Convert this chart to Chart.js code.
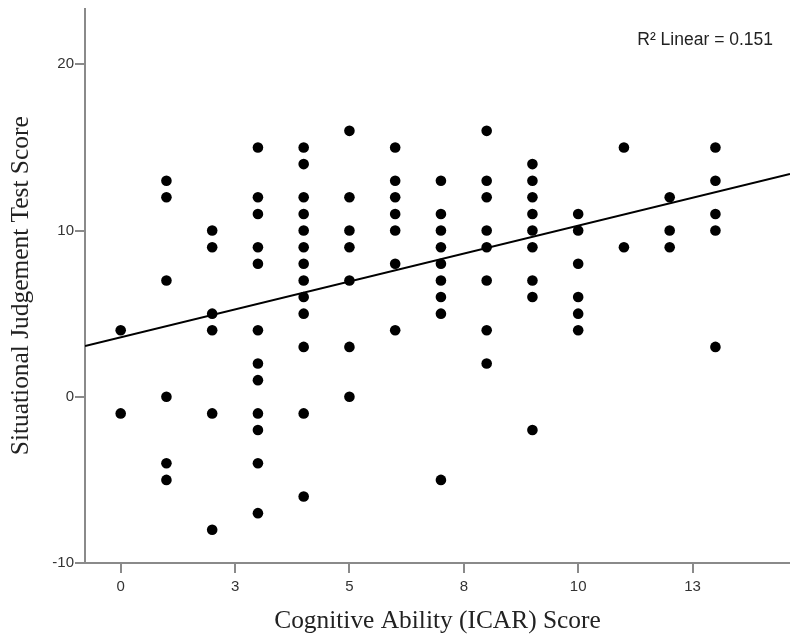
<!DOCTYPE html>
<html>
<head>
<meta charset="utf-8">
<script src="https://cdn.jsdelivr.net/npm/chart.js@4/dist/chart.umd.min.js"></script>
<style>
  html, body { margin: 0; padding: 0; background: #fff; }
  canvas { display: block; }
</style>
</head>
<body>
<canvas id="chartCanvas" width="790" height="640"></canvas>
<script>
// --- data ---
const cogScores = [0, 1, 2, 3, 4, 5, 6, 7, 8, 9, 10, 11, 12, 13];
const sjtScores = [
  [4, -1],
  [13, 12, 7, 0, -4, -5],
  [10, 9, 5, 4, -1, -8],
  [15, 12, 11, 9, 8, 4, 2, 1, -1, -2, -4, -7],
  [15, 14, 12, 11, 10, 9, 8, 7, 6, 5, 3, -1, -6],
  [16, 12, 10, 9, 7, 3, 0],
  [15, 13, 12, 11, 10, 8, 4],
  [13, 11, 10, 9, 8, 7, 6, 5, -5],
  [16, 13, 12, 10, 9, 7, 4, 2],
  [14, 13, 12, 11, 10, 9, 7, 6, -2],
  [11, 10, 8, 6, 5, 4],
  [15, 9],
  [12, 10, 9],
  [15, 13, 11, 10, 3]
];
// fit line end points (as drawn)
const fitX = [-0.78, 14.63];
const fitY = [3.06, 13.4];
const rSquaredLabel = "R\u00B2 Linear = 0.151";

const xTickValues = [0, 2.5, 5, 7.5, 10, 12.5];
const xTickLabels = ["0", "3", "5", "8", "10", "13"];
const yTickValues = [-10, 0, 10, 20];

// --- build datasets ---
const points = [];
cogScores.forEach((x, i) => {
  sjtScores[i].forEach(y => points.push({ x, y }));
});
const fitPoints = fitX.map((x, i) => ({ x, y: fitY[i] }));

const axisColor = "#8a8a8a";
const tickFont = { family: "Liberation Sans", size: 15, lineHeight: 1 };
const titleFont = { family: "Liberation Serif", size: 25.4 };

// R² text in the top right corner
const r2Label = {
  id: "r2Label",
  afterDraw(chart) {
    const ctx = chart.ctx;
    ctx.save();
    ctx.font = "17.5px 'Liberation Sans'";
    ctx.fillStyle = "#222";
    ctx.textAlign = "right";
    ctx.textBaseline = "middle";
    ctx.fillText(rSquaredLabel, 773, 40);
    ctx.restore();
  }
};

new Chart(document.getElementById("chartCanvas"), {
  type: "scatter",
  data: {
    datasets: [
      {
        label: "scores",
        data: points,
        backgroundColor: "#000",
        borderWidth: 0,
        pointRadius: 5.3,
        pointHoverRadius: 5.3
      },
      {
        type: "line",
        label: "fit",
        data: fitPoints,
        borderColor: "#000",
        borderWidth: 2,
        pointRadius: 0,
        fill: false
      }
    ]
  },
  options: {
    responsive: false,
    animation: false,
    layout: { autoPadding: false, padding: { top: 5, right: 0, left: 0, bottom: 0 } },
    plugins: {
      legend: { display: false },
      tooltip: { enabled: false }
    },
    scales: {
      x: {
        type: "linear",
        min: -0.78,
        max: 14.63,
        afterFit(scale) { scale.height = 77; },
        afterBuildTicks(scale) { scale.ticks = xTickValues.map(v => ({ value: v })); },
        ticks: {
          font: tickFont,
          color: "#333",
          padding: 6,
          maxRotation: 0,
          callback: (value, index) => xTickLabels[index]
        },
        grid: { drawOnChartArea: false, drawTicks: true, tickLength: 10, color: axisColor, lineWidth: 2 },
        border: { display: true, color: axisColor, width: 2 },
        title: {
          display: true,
          text: "Cognitive Ability (ICAR) Score",
          font: titleFont,
          color: "#222",
          padding: { top: 0, bottom: 3 }
        }
      },
      y: {
        type: "linear",
        min: -10,
        max: 23.36,
        afterFit(scale) { scale.width = 85; },
        afterBuildTicks(scale) { scale.ticks = yTickValues.map(v => ({ value: v })); },
        ticks: {
          font: tickFont,
          color: "#333",
          padding: 1
        },
        grid: { drawOnChartArea: false, drawTicks: true, tickLength: 10, color: axisColor, lineWidth: 2 },
        border: { display: true, color: axisColor, width: 2 },
        title: {
          display: true,
          text: "Situational Judgement Test Score",
          font: titleFont,
          color: "#222",
          padding: { top: 6, bottom: 0 }
        }
      }
    }
  },
  plugins: [r2Label]
});
</script>
</body>
</html>
